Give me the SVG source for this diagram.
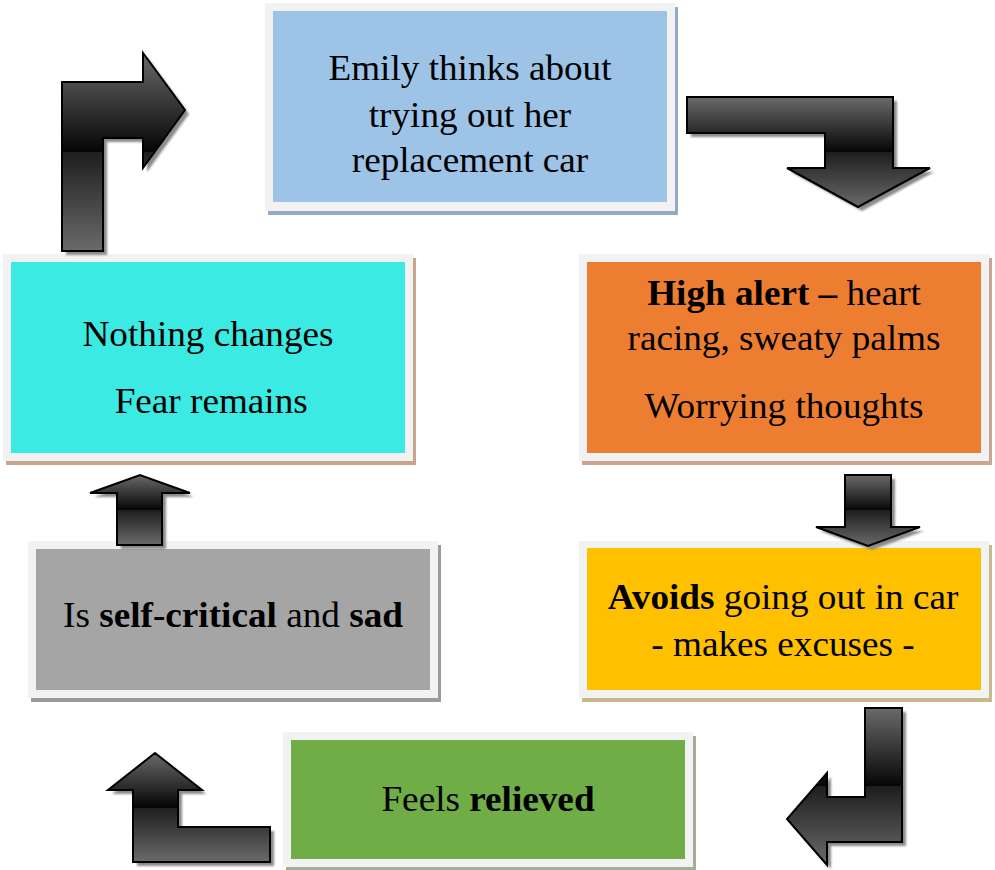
<svg xmlns="http://www.w3.org/2000/svg" width="995" height="870" viewBox="0 0 995 870">
<defs>
<linearGradient id="ag" x1="0" y1="0" x2="0" y2="1">
<stop offset="0" stop-color="#6a6a6a"/>
<stop offset="0.5" stop-color="#050505"/>
<stop offset="0.5" stop-color="#1e1e1e"/>
<stop offset="1" stop-color="#6a6a6a"/>
</linearGradient>
<filter id="blur" x="-10%" y="-10%" width="120%" height="120%"><feGaussianBlur stdDeviation="1"/></filter>
<style>
.frame{fill:#f2f2f2}
.t{font-family:"Liberation Serif","Times New Roman",serif;font-size:35px;fill:#000;text-anchor:middle}
.b{font-weight:bold}
.arrow{fill:url(#ag);stroke:#000;stroke-width:2;stroke-linejoin:miter}
.ashadow{fill:#8a8a8a;filter:url(#blur)}
</style>
</defs>
<rect width="995" height="870" fill="#ffffff"/>

<g id="node-emily">
<rect x="268" y="7" width="410" height="208" fill="#93a9c6"/>
<rect class="frame" x="265" y="3" width="410" height="208"/>
<rect x="273" y="11" width="394" height="191" fill="#9dc3e6"/>
<g transform="translate(470,0) scale(1.063,1)">
<text class="t" x="0" y="80">Emily thinks about</text>
<text class="t" x="0" y="127">trying out her</text>
<text class="t" x="0" y="172">replacement car</text>
</g>
</g>

<g id="node-alert">
<rect x="582" y="258" width="410" height="207" fill="#c9a692"/>
<rect class="frame" x="579" y="254" width="410" height="207"/>
<rect x="587" y="262" width="394" height="191" fill="#ed7d31"/>
<g transform="translate(784,0) scale(1.063,1)">
<text class="t" x="0" y="305"><tspan class="b">High alert –</tspan> heart</text>
<text class="t" x="0" y="350">racing, sweaty palms</text>
<text class="t" x="0" y="418">Worrying thoughts</text>
</g>
</g>

<g id="node-avoids">
<rect x="582" y="545" width="410" height="157" fill="#c8b98c"/>
<rect class="frame" x="579" y="541" width="410" height="157"/>
<rect x="587" y="548" width="394" height="142" fill="#ffc000"/>
<g transform="translate(783,0) scale(1.063,1)">
<text class="t" x="0" y="609"><tspan class="b">Avoids</tspan> going out in car</text>
<text class="t" x="0" y="656">- makes excuses -</text>
</g>
</g>

<g id="node-relieved">
<rect x="286" y="736" width="410" height="135" fill="#a3ad98"/>
<rect class="frame" x="283" y="732" width="410" height="135"/>
<rect x="291" y="740" width="394" height="119" fill="#70ad47"/>
<g transform="translate(488,0) scale(1.063,1)">
<text class="t" x="0" y="811">Feels <tspan class="b">relieved</tspan></text>
</g>
</g>

<g id="node-selfcritical">
<rect x="31" y="545" width="410" height="157" fill="#9a9a9a"/>
<rect class="frame" x="28" y="541" width="410" height="157"/>
<rect x="36" y="549" width="394" height="141" fill="#a5a5a5"/>
<g transform="translate(233,0) scale(1.063,1)">
<text class="t" x="0" y="627">Is <tspan class="b">self-critical</tspan> and <tspan class="b">sad</tspan></text>
</g>
</g>

<g id="node-nothing">
<rect x="6" y="258" width="410" height="207" fill="#c6a48e"/>
<rect class="frame" x="3" y="254" width="410" height="207"/>
<rect x="11" y="262" width="394" height="191" fill="#3aeae3"/>
<g transform="translate(208,0) scale(1.063,1)">
<text class="t" x="0" y="346">Nothing changes</text>
<text class="t" x="3" y="413">Fear remains</text>
</g>
</g>

<g id="connectors">
<g id="arrow-1">
<polygon class="ashadow" transform="translate(4,4)" points="62,251 62,82 143,82 143,53 185,110 143,168 143,138 103,138 103,251"/>
<polygon class="arrow" points="62,251 62,82 143,82 143,53 185,110 143,168 143,138 103,138 103,251"/>
</g>
<g id="arrow-2">
<polygon class="ashadow" transform="translate(4,4)" points="687,97 893,97 893,168 930,168 858,207 787,168 825,168 825,133 687,133"/>
<polygon class="arrow" points="687,97 893,97 893,168 930,168 858,207 787,168 825,168 825,133 687,133"/>
</g>
<g id="arrow-3">
<polygon class="ashadow" transform="translate(4,4)" points="845,475 891,475 891,527 920,527 868,546 816,527 845,527"/>
<polygon class="arrow" points="845,475 891,475 891,527 920,527 868,546 816,527 845,527"/>
</g>
<g id="arrow-4">
<polygon class="ashadow" transform="translate(4,4)" points="865,708 902,708 902,842 827,842 827,865 787,819 827,773 827,797 865,797"/>
<polygon class="arrow" points="865,708 902,708 902,842 827,842 827,865 787,819 827,773 827,797 865,797"/>
</g>
<g id="arrow-5">
<polygon class="ashadow" transform="translate(4,4)" points="270,827 270,862 133,862 133,790 108,790 155,753 202,790 178,790 178,827"/>
<polygon class="arrow" points="270,827 270,862 133,862 133,790 108,790 155,753 202,790 178,790 178,827"/>
</g>
<g id="arrow-6">
<polygon class="ashadow" transform="translate(4,4)" points="117,545 117,493 90,493 140,475 190,493 162,493 162,545"/>
<polygon class="arrow" points="117,545 117,493 90,493 140,475 190,493 162,493 162,545"/>
</g>
</g>
</svg>
